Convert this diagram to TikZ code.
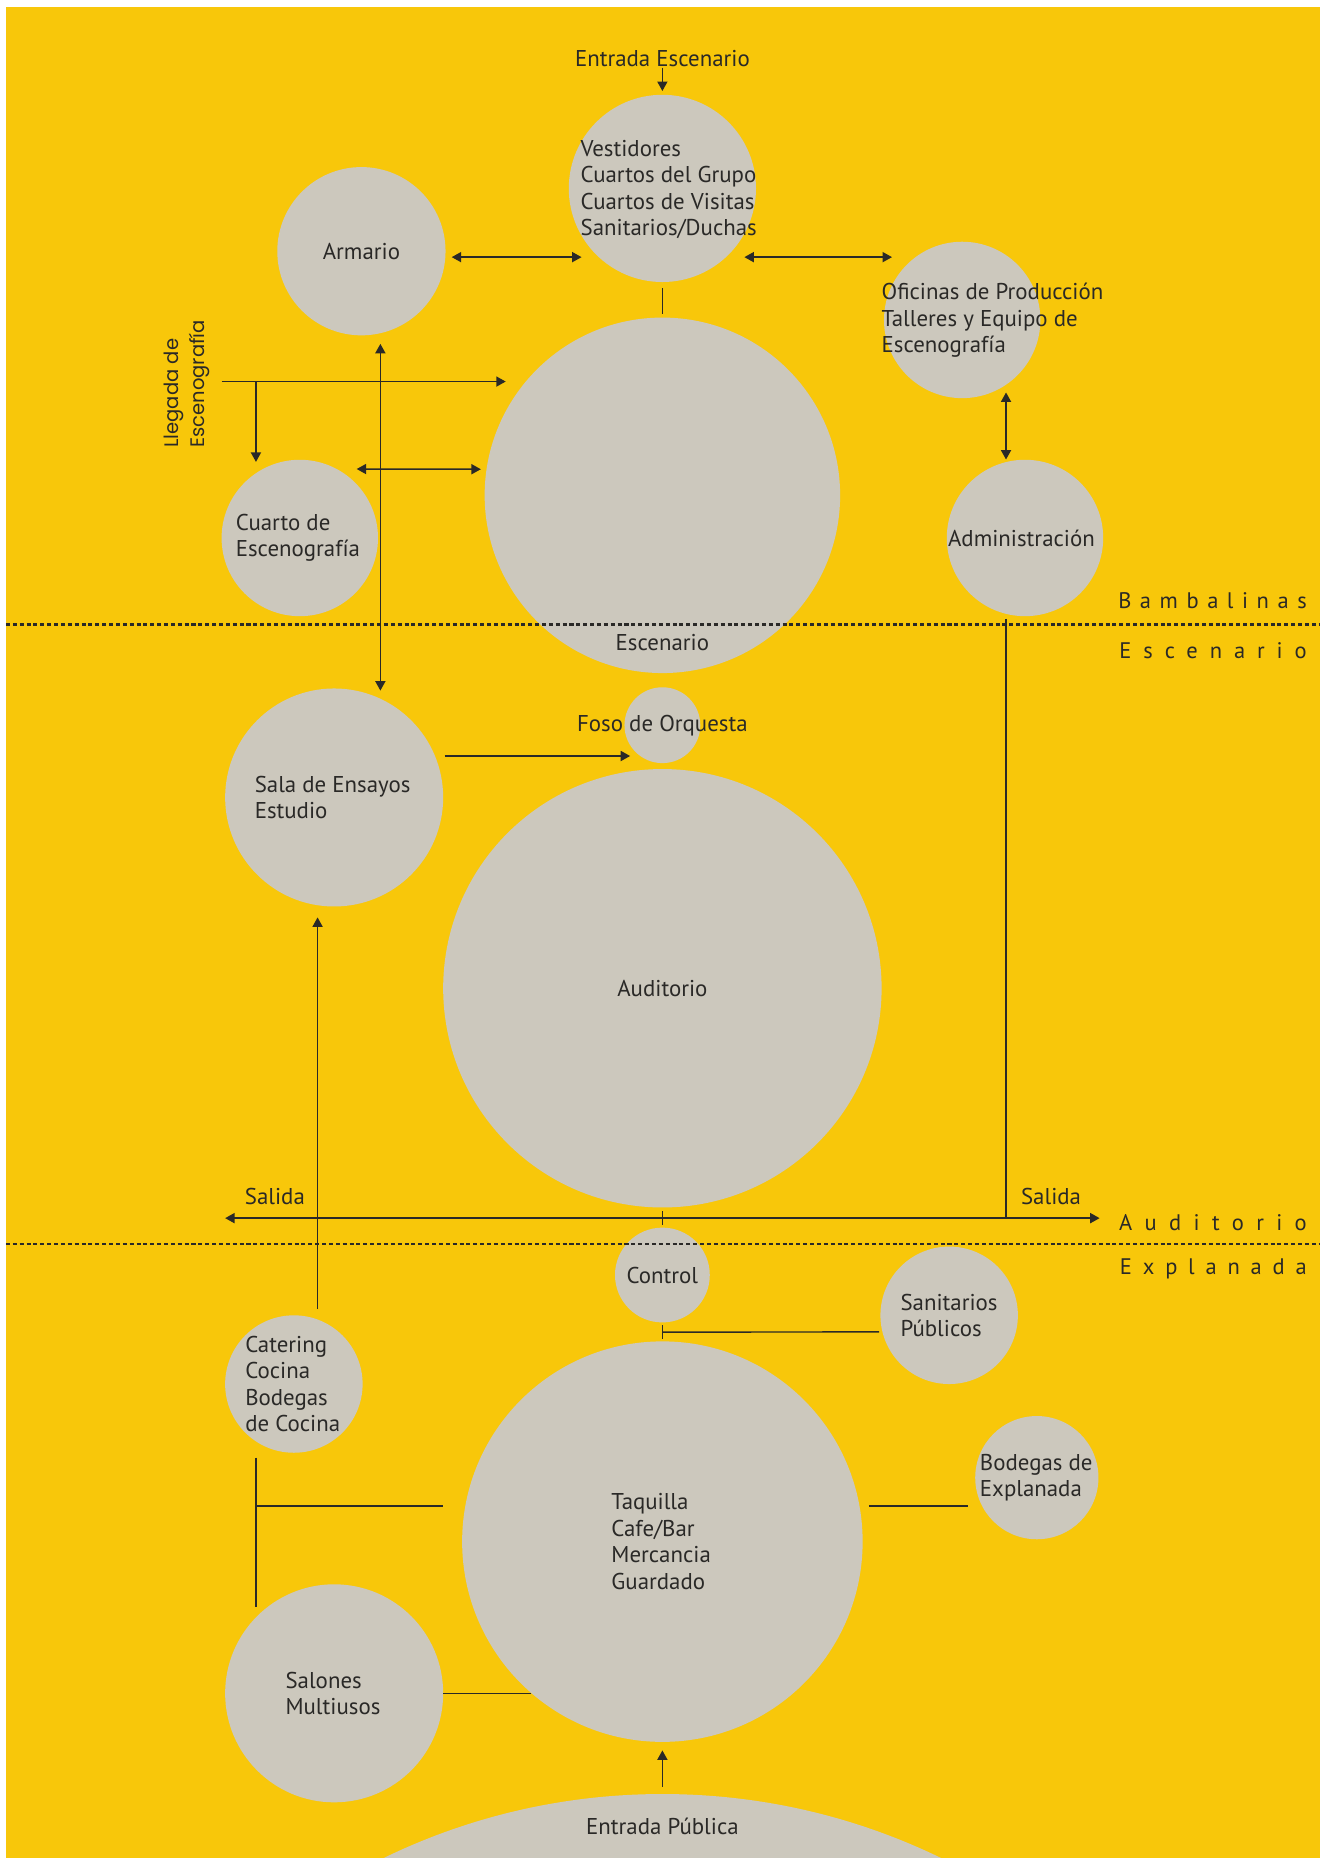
\documentclass[tikz,border=0pt]{standalone}
\usepackage{fontspec}
\setmainfont{PT Sans}
\newfontfamily\llegfont{Poppins}
\usetikzlibrary{arrows.meta,positioning}
\definecolor{bgyellow}{HTML}{F8C70A}
\definecolor{roomgray}{HTML}{CCC8BD}
\definecolor{ink}{HTML}{2A2927}
\tikzset{
  room/.style={ % grey bubble of one space
    circle, fill=roomgray, draw=none,
    minimum size=#1, inner sep=0pt
  },
  txt/.style={ % text written in or near a bubble
    align=left, text=ink, inner sep=1pt,
    font=\fontsize{19.3}{22.4}\selectfont
  },
  zone/.style={ % letter-spaced zone name on the right edge
    anchor=base east, text=ink, inner sep=0pt,
    font=\fontsize{19}{20}\selectfont\addfontfeature{LetterSpace=#1}
  },
  flow/.style={ % connector with tips
    draw=ink, line width=1.3pt,
    >={Triangle[length=8pt,width=8.5pt]}
  },
  link/.style={draw=ink, line width=1.2pt}, % connector, no tips
  border/.style={ % dotted line between two zones
    draw=ink, line width=1.8pt, dash pattern=on 3.4pt off 2.4pt
  }
}
\begin{document}
\begin{tikzpicture}[x=1pt,y=-1pt]
  \useasboundingbox (0,0) rectangle (1117,1568);
  \fill[bgyellow] (5,6) rectangle (1114,1568);

  % bubbles
  \node[room=158] (vest) at (559,159) {};
  \node[room=142] (arm) at (305,212) {};
  \node[room=132] (ofic) at (812,270) {};
  \node[room=300] (esc) at (559,418) {};
  \node[room=132] (cuarto) at (253,454) {};
  \node[room=132] (adm) at (865,454) {};
  \node[room=64] (foso) at (559,612) {};
  \node[room=184] (sala) at (282,673) {};
  \node[room=370] (aud) at (559,834) {};
  \node[room=80] (ctrl) at (559,1076) {};
  \node[room=116] (sanit) at (801,1110) {};
  \node[room=116] (cater) at (248,1168) {};
  \node[room=338] (taq) at (559,1301) {};
  \node[room=104] (bodeg) at (875,1247) {};
  \node[room=184] (salon) at (282,1429) {};
  \begin{scope}
    \clip (5,6) rectangle (1114,1568);
    \node[room=1076] (entP) at (559,2052) {};
  \end{scope}

  % texts
  \node[txt] (entE) at (559,49) {Entrada Escenario};
  \node[txt, anchor=west] (vestTxt) at ([shift={(9,1)}]vest.west)
    {Vestidores\\Cuartos del Grupo\\Cuartos de Visitas\\Sanitarios/Duchas};
  \node[txt] (armTxt) at (arm) {Armario};
  \node[txt, anchor=west] (oficTxt) at ([shift={(-3,0.5)}]ofic.west)
    {Oficinas de Producción\\Talleres y Equipo de\\Escenografía};
  \node[txt, anchor=west] (cuartoTxt) at ([shift={(11,0)}]cuarto.west)
    {Cuarto de\\Escenografía};
  \node[txt] (admTxt) at ([xshift=-3pt]adm.center) {Administración};
  \node[txt] (escTxt) at ([yshift=26pt]esc.south) {Escenario};
  \node[txt] (fosoTxt) at (foso) {Foso de Orquesta};
  \node[txt, anchor=west] (salaTxt) at ([xshift=24pt]sala.west)
    {Sala de Ensayos\\Estudio};
  \node[txt] (audTxt) at (aud) {Auditorio};
  \node[txt] (ctrlTxt) at (ctrl) {Control};
  \node[txt, anchor=west] (sanitTxt) at ([xshift=16pt]sanit.west)
    {Sanitarios\\Públicos};
  \node[txt, anchor=west] (caterTxt) at ([xshift=16pt]cater.west)
    {Catering\\Cocina\\Bodegas\\de Cocina};
  \node[txt, anchor=west] (bodegTxt) at ([shift={(3,0)}]bodeg.west)
    {Bodegas de\\Explanada};
  \node[txt, anchor=west] (taqTxt) at ([xshift=125pt]taq.west)
    {Taquilla\\Cafe/Bar\\Mercancia\\Guardado};
  \node[txt, anchor=west] (salonTxt) at ([xshift=50pt]salon.west)
    {Salones\\Multiusos};
  \node[txt] (entPTxt) at (559,1541) {Entrada Pública};
  \node[txt, font=\llegfont\fontsize{16.5}{22}\selectfont, rotate=90,
    anchor=west] (llegTxt) at (158,379) {Llegada de\\Escenografía};

  % zones
  \draw[border] (5,527) -- (1114,527);
  \draw[border] (5,1050) -- (1114,1050);
  \node[zone=38] (zBamb) at (1103,513.5) {Bambalinas};
  \node[zone=53] (zEsc) at (1103,555.5) {Escenario};
  \node[zone=55] (zAud) at (1103,1038.5) {Auditorio};
  \node[zone=48] (zExp) at (1103,1075.5) {Explanada};

  % connectors, Bambalinas
  \draw[flow,->] (entE.south) -- ([yshift=3pt]vest.north);
  \draw[flow,<->] ([shift={(5,5)}]arm.east) -- ([shift={(11,58)}]vest.west);
  \draw[flow,<->] ([shift={(-10,58)}]vest.east) -- ([shift={(7,-53)}]ofic.west);
  \draw[link] ([yshift=-5pt]vest.south) -- ([yshift=3pt]esc.north);
  \coordinate (llegIn) at (187,322);
  \coordinate (llegBr) at (216,322);
  \draw[flow,->] (llegIn) -- ([shift={(18,-96)}]esc.west);
  \draw[flow,->] (llegBr) -- ([shift={(-37,2)}]cuarto.north);
  \draw[flow,<->] ([shift={(16,7)}]arm.south) -- ([shift={(39,2)}]sala.north);
  \draw[flow,<->] ([shift={(48,8)}]cuarto.north) -- ([shift={(-3,-22)}]esc.west);
  \draw[flow,<->] ([shift={(37,-5)}]ofic.south) -- ([xshift=-16pt]adm.north);

  % connectors, Escenario and Auditorio
  \coordinate (salL) at (190,1028);
  \coordinate (salR) at (928,1028);
  \draw[link] ([shift={(-16,2)}]adm.south) -- ([xshift=-16pt]adm.south |- salR);
  \draw[flow,->] ([shift={(1,-35)}]sala.east) -- ([shift={(5,26)}]foso.west);
  \draw[flow,<->] (salL) -- (salR);
  \node[txt] (salLTxt) at ([shift={(42,-18)}]salL) {Salida};
  \node[txt] (salRTxt) at ([shift={(-41,-18)}]salR) {Salida};
  \draw[link, shorten <=3pt, shorten >=2pt] (aud) -- (ctrl);

  % connectors, Explanada
  \draw[link, shorten <=2pt, shorten >=2pt] (ctrl) -- (taq);
  \draw[link] ([shift={(-1,14)}]sanit.west) -- ([yshift=-8pt]ctrl.south);
  \draw[flow,->] ([shift={(20,-5)}]cater.north) -- ([shift={(-14,9)}]sala.south);
  \draw[link] ([shift={(-32,4)}]cater.south) coordinate (brkTop)
    -- ([shift={(-66,19)}]salon.north);
  \draw[link] ([shift={(-16,-30)}]taq.west) -| (brkTop);
  \draw[link] ([shift={(5,-30)}]taq.east) -- ([shift={(-6,24)}]bodeg.west);
  \draw[link] (salon.east) -- ++(74,0);
  \draw[flow,->, shorten <=6pt, shorten >=7pt] (entP.north) -- (taq.south);
\end{tikzpicture}
\end{document}
